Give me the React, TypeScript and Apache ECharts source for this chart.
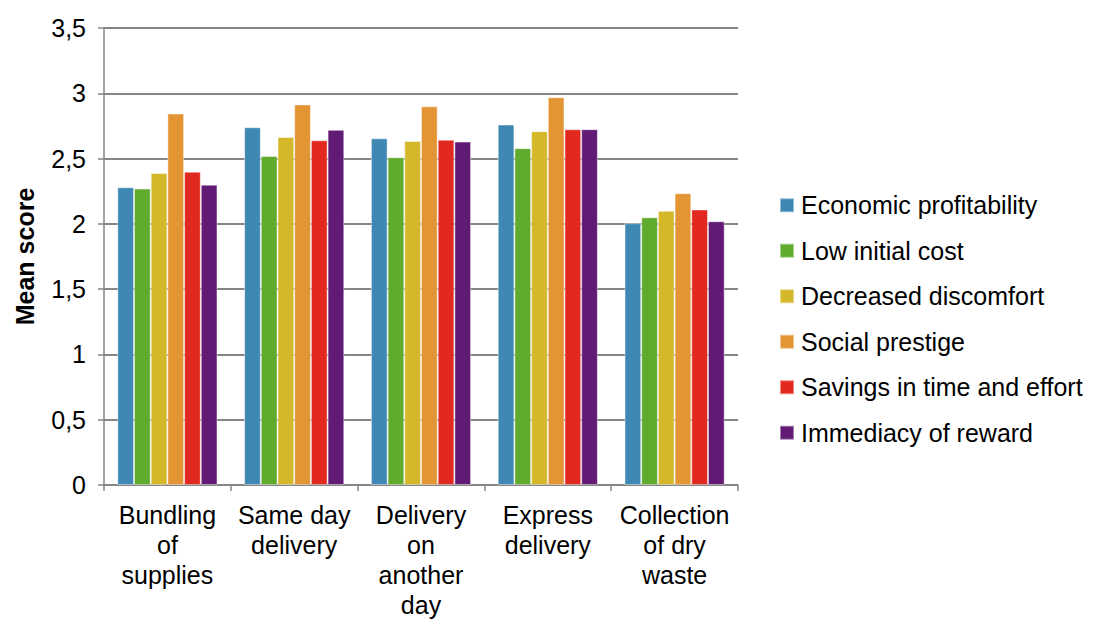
import React, { useEffect, useRef } from "react";
import * as echarts from "echarts";

const categories = [
  "Bundling\nof\nsupplies",
  "Same day\ndelivery",
  "Delivery\non\nanother\nday",
  "Express\ndelivery",
  "Collection\nof dry\nwaste",
];

const seriesNames = [
  "Economic profitability",
  "Low initial cost",
  "Decreased discomfort",
  "Social prestige",
  "Savings in time and effort",
  "Immediacy of reward",
];

const economicProfitability = [2.28, 2.74, 2.655, 2.76, 2.005];
const lowInitialCost = [2.27, 2.52, 2.51, 2.58, 2.05];
const decreasedDiscomfort = [2.39, 2.665, 2.635, 2.71, 2.10];
const socialPrestige = [2.845, 2.915, 2.90, 2.97, 2.235];
const savingsTimeEffort = [2.40, 2.64, 2.645, 2.725, 2.11];
const immediacyReward = [2.30, 2.72, 2.63, 2.725, 2.02];

const seriesValues = [
  economicProfitability,
  lowInitialCost,
  decreasedDiscomfort,
  socialPrestige,
  savingsTimeEffort,
  immediacyReward,
];

const colors = ["#3F88B3", "#60AA2E", "#D4B82A", "#E39433", "#E2291F", "#611B74"];

const FONT = "Liberation Sans, Arial, sans-serif";

export default function App() {
  const ref = useRef<HTMLDivElement>(null);
  useEffect(() => {
    if (!ref.current) return;
    const chart = echarts.init(ref.current, undefined, { renderer: "svg" });
    chart.setOption({
      animation: false,
      color: colors,
      grid: {
        left: 104,
        top: 28,
        width: 634,
        height: 457,
        containLabel: false,
        outerBoundsMode: "none",
      },
      legend: {
        orient: "vertical",
        left: 774,
        top: 186,
        itemWidth: 14,
        itemHeight: 14,
        itemGap: 17,
        icon: "rect",
        textStyle: { fontSize: 25, color: "#000", fontFamily: FONT, padding: [0, 0, 0, 2], lineHeight: 28.5 },
        data: seriesNames,
      },
      xAxis: {
        type: "category",
        data: categories,
        axisLine: { lineStyle: { color: "#868686", width: 1.5 } },
        axisTick: { show: true, alignWithLabel: false, length: 6, lineStyle: { color: "#868686", width: 1.5 } },
        axisLabel: {
          fontSize: 25,
          color: "#000",
          fontFamily: FONT,
          lineHeight: 30,
          margin: 15,
          interval: 0,
        },
      },
      yAxis: {
        type: "value",
        min: 0,
        max: 3.5,
        interval: 0.5,
        name: "Mean score",
        nameLocation: "middle",
        nameGap: 67,
        nameRotate: 90,
        nameTextStyle: { fontSize: 25, fontWeight: "bold", color: "#000", fontFamily: FONT },
        axisLine: { show: true, lineStyle: { color: "#868686", width: 1.5 } },
        axisTick: { show: true, length: 6, lineStyle: { color: "#868686", width: 1.5 } },
        splitLine: { show: true, lineStyle: { color: "#868686", width: 2 } },
        axisLabel: {
          fontSize: 25,
          color: "#000",
          fontFamily: FONT,
          margin: 18,
          formatter: (v: number) => String(v).replace(".", ","),
        },
      },
      series: seriesNames.map((name, i) => ({
        name,
        type: "bar",
        data: seriesValues[i],
        barGap: "0%",
        barCategoryGap: "21%",
        itemStyle: { borderColor: "rgba(255,255,255,0.45)", borderWidth: 1 },
      })),
    });
    return () => chart.dispose();
  }, []);
  return (
    <div
      ref={ref}
      style={{ position: "absolute", left: 0, top: 0, width: 1102, height: 619, background: "#fff" }}
    />
  );
}
